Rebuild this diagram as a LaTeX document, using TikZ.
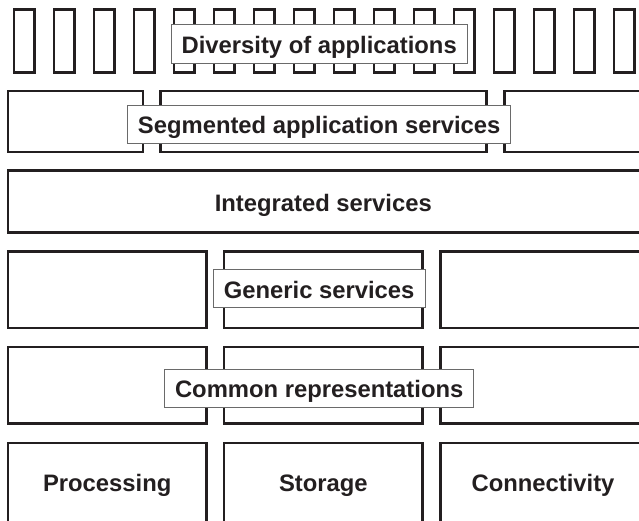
\documentclass[tikz,border=0pt]{standalone}
\usepackage{fontspec}
\setmainfont{Liberation Sans}
\definecolor{ink}{HTML}{231F20}
\definecolor{tagline}{HTML}{6A6A6A}
\tikzset{
  cell/.style={draw=ink, line width=2.6pt, fill=white, inner sep=0pt, outer sep=0pt},
  appcell/.style={cell, minimum width=20.4pt, minimum height=63.1pt},
  bigtext/.style={text=ink, font=\fontsize{23.8}{28}\selectfont\bfseries},
  tag/.style={bigtext, draw=tagline, line width=0.9pt, fill=white, inner xsep=10.5pt,
    inner ysep=0pt, minimum height=38.3pt, text height=19pt, text depth=0pt},
  caption/.style={bigtext, inner sep=0pt, text height=17pt, text depth=0pt},
  basecell/.style={cell, bigtext, minimum height=80.4pt, text height=17pt, text depth=0pt}
}
\begin{document}
\begin{tikzpicture}[x=1pt, y=-1pt]
\useasboundingbox (0,0) rectangle (639,520);
\begin{scope}
\clip (0,0) rectangle (639,520);

% row of individual applications
\foreach \i in {0,...,15}
  \node[appcell] (app\i) at ({24.2+40*\i},41.15) {};
\node[tag] (diversity) at (319.2,44) {Diversity of applications};

% segmented application services
\node[cell, minimum width=135pt, minimum height=61pt] (seg1) at (75.5,121.5) {};
\node[cell, minimum width=326.4pt, minimum height=61pt] (seg2) at (323.5,121.5) {};
\node[cell, minimum width=141.1pt, minimum height=61pt] (seg3) at (575.15,121.5) {};
\node[tag] (segmented) at (319.2,124.2) {Segmented application services};

% integrated services
\node[cell, minimum width=637.7pt, minimum height=61.8pt] (integ) at (326.85,201.5) {};
\node[caption] (integtxt) at (323.3,203.3) {Integrated services};

% generic services
\node[cell, minimum width=198.4pt, minimum height=76.7pt] (gen1) at (107.2,289.65) {};
\node[cell, minimum width=198.7pt, minimum height=76.7pt] (gen2) at (323.35,289.65) {};
\node[cell, minimum width=205.4pt, minimum height=76.7pt] (gen3) at (543,289.65) {};
\node[tag] (generic) at (319.2,288.7) {Generic services};

% common representations
\node[cell, minimum width=198.4pt, minimum height=76.7pt] (com1) at (107.2,385.35) {};
\node[cell, minimum width=198.7pt, minimum height=76.7pt] (com2) at (323.35,385.35) {};
\node[cell, minimum width=205.4pt, minimum height=76.7pt] (com3) at (543,385.35) {};
\node[tag] (common) at (319.2,388.3) {Common representations};

% infrastructure
\node[basecell, minimum width=198.4pt] (proc) at (107.2,483.2) {Processing};
\node[basecell, minimum width=198.7pt] (stor) at (323.35,483.2) {Storage};
\node[basecell, minimum width=205.4pt] (conn) at (543,483.2) {Connectivity};
\end{scope}
\end{tikzpicture}
\end{document}
